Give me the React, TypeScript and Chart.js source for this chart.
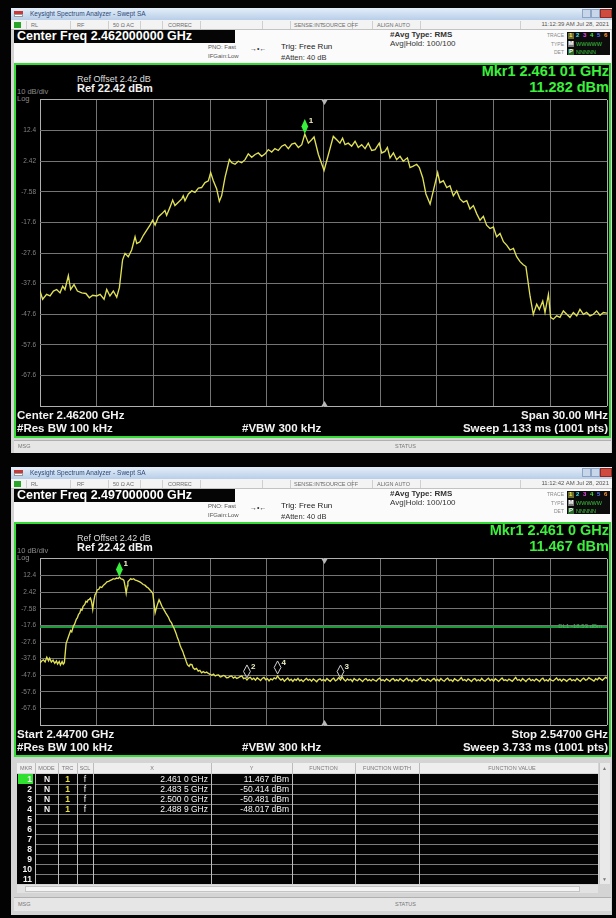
import React, { useEffect, useRef } from "react";
import { Chart, registerables } from "chart.js";

Chart.register(...registerables);

const FONT = "'Liberation Sans', Arial, Helvetica, sans-serif";

// Display scale shared by both sweeps
const refLevelDbm = 22.42;
const dbPerDiv = 10;
const yTickLabels = ["12.4", "2.42", "-7.58", "-17.6", "-27.6", "-37.6", "-47.6", "-57.6", "-67.6"];

// Sweep 1: centre 2.462 GHz, span 30 MHz (frequency in MHz, level in dBm)
const upperSpanMHz: [number, number] = [2447, 2477];
const upperTrace: [number, number][] = [
  [2447.0, -40.0], [2447.14, -42.7], [2447.35, -41.1], [2447.53, -41.6], [2447.71, -40.0], [2447.88, -39.5],
  [2448.06, -40.6], [2448.2, -38.4], [2448.32, -39.5], [2448.5, -35.0], [2448.62, -39.5], [2448.8, -37.9],
  [2448.98, -40.0], [2449.21, -40.6], [2449.43, -40.8], [2449.61, -42.2], [2449.79, -41.4], [2450.0, -41.6],
  [2450.18, -41.1], [2450.39, -42.7], [2450.53, -39.5], [2450.7, -41.6], [2450.88, -40.0], [2451.06, -42.0],
  [2451.2, -38.9], [2451.37, -29.8], [2451.5, -27.7], [2451.67, -28.8], [2451.85, -26.6], [2452.03, -22.3],
  [2452.12, -24.5], [2452.29, -23.9], [2452.47, -21.8], [2452.64, -20.2], [2452.82, -18.5], [2452.96, -16.9],
  [2453.09, -18.5], [2453.26, -15.8], [2453.44, -14.8], [2453.61, -13.7], [2453.7, -15.3], [2453.88, -12.6],
  [2454.02, -10.3], [2454.14, -12.1], [2454.32, -11.0], [2454.5, -9.9], [2454.58, -8.9], [2454.67, -10.5],
  [2454.85, -8.3], [2455.03, -7.3], [2455.2, -7.8], [2455.38, -6.4], [2455.55, -6.2], [2455.73, -4.6],
  [2455.91, -4.0], [2456.03, -1.3], [2456.17, -4.0], [2456.35, -6.7], [2456.49, -10.7], [2456.61, -8.9],
  [2456.79, -2.9], [2457.02, 2.9], [2457.14, 1.9], [2457.32, 1.4], [2457.49, 2.4], [2457.67, 1.9],
  [2457.85, 2.9], [2458.02, 4.8], [2458.2, 3.7], [2458.38, 4.6], [2458.55, 5.1], [2458.73, 4.0],
  [2458.91, 4.8], [2459.08, 6.2], [2459.26, 5.4], [2459.43, 6.5], [2459.61, 5.9], [2459.79, 7.3],
  [2459.96, 7.8], [2460.14, 6.5], [2460.32, 8.0], [2460.49, 8.3], [2460.67, 6.9], [2460.85, 7.8],
  [2461.01, 11.282], [2461.2, 8.3], [2461.37, 9.4], [2461.5, 10.3], [2461.73, 4.6], [2462.03, -0.6],
  [2462.26, 4.6], [2462.52, 10.5], [2462.7, 9.4], [2462.87, 8.3], [2463.01, 9.9], [2463.14, 7.8],
  [2463.31, 8.3], [2463.49, 7.3], [2463.67, 8.9], [2463.84, 6.9], [2464.02, 7.8], [2464.2, 6.5],
  [2464.37, 8.3], [2464.55, 5.9], [2464.73, 6.2], [2464.95, 8.3], [2465.08, 5.1], [2465.25, 5.6],
  [2465.38, 6.9], [2465.52, 3.5], [2465.7, 5.1], [2465.87, 2.9], [2466.05, 4.0], [2466.22, 2.4],
  [2466.44, 3.5], [2466.58, 0.3], [2466.75, 0.8], [2466.93, 1.4], [2467.07, 0.3], [2467.25, -3.0],
  [2467.42, -8.3], [2467.64, -11.6], [2467.81, -7.3], [2468.04, -1.3], [2468.16, -4.6], [2468.34, -4.0],
  [2468.52, -6.2], [2468.69, -5.6], [2468.87, -8.9], [2469.05, -7.3], [2469.22, -9.9], [2469.4, -11.0],
  [2469.58, -10.5], [2469.75, -13.2], [2469.93, -12.1], [2470.11, -14.8], [2470.28, -16.9], [2470.46, -15.6],
  [2470.63, -18.5], [2470.81, -19.6], [2470.99, -19.1], [2471.16, -22.3], [2471.34, -21.2], [2471.52, -23.9],
  [2471.69, -25.0], [2471.87, -26.6], [2472.05, -26.1], [2472.22, -28.8], [2472.4, -30.4], [2472.57, -31.4],
  [2472.71, -32.0], [2472.93, -41.7], [2473.1, -47.6], [2473.28, -44.3], [2473.42, -46.0], [2473.6, -43.3],
  [2473.72, -47.0], [2473.9, -41.1], [2474.02, -48.6], [2474.16, -49.2], [2474.34, -48.1], [2474.51, -48.6],
  [2474.69, -46.5], [2474.87, -47.6], [2475.04, -48.6], [2475.22, -47.0], [2475.4, -48.1], [2475.57, -46.0],
  [2475.75, -47.6], [2475.92, -47.0], [2476.1, -48.1], [2476.28, -47.6], [2476.45, -46.5], [2476.63, -47.9],
  [2476.81, -47.0], [2477.0, -47.2],
];
const upperMarkers: Marker[] = [{ id: 1, freqMHz: 2461.01, levelDbm: 11.282, active: true }];

// Sweep 2: 2.447 GHz to 2.547 GHz band-edge sweep
const lowerSpanMHz: [number, number] = [2447, 2547];
const lowerTrace: [number, number][] = [
  [2447.0, -40.2], [2447.3, -39.0], [2447.6, -38.3], [2447.9, -39.6], [2448.2, -36.8], [2448.5, -38.9],
  [2448.7, -37.3], [2449.0, -39.6], [2449.3, -38.5], [2449.6, -40.4], [2449.9, -39.0], [2450.1, -40.8],
  [2450.4, -39.3], [2450.6, -41.4], [2450.9, -39.4], [2451.1, -40.9], [2451.3, -40.0], [2451.6, -28.5],
  [2452.0, -24.6], [2452.4, -20.7], [2452.6, -21.5], [2452.9, -17.8], [2453.1, -16.9], [2453.4, -13.9],
  [2453.6, -13.0], [2453.8, -10.9], [2454.0, -10.2], [2454.2, -8.0], [2454.4, -8.4], [2454.6, -6.1],
  [2454.9, -5.0], [2455.1, -3.1], [2455.3, -3.6], [2455.5, -2.2], [2455.7, -1.9], [2455.9, -1.2],
  [2456.1, -3.5], [2456.3, -8.0], [2456.5, -2.8], [2456.7, 0.8], [2456.9, 1.9], [2457.1, 3.7],
  [2457.4, 4.3], [2457.6, 5.6], [2457.9, 5.2], [2458.2, 6.6], [2458.5, 7.4], [2458.8, 8.6],
  [2459.1, 8.9], [2459.4, 9.5], [2459.7, 9.9], [2459.9, 10.5], [2460.2, 10.3], [2460.5, 10.9],
  [2460.8, 10.6], [2461.0, 11.467], [2461.3, 10.4], [2461.6, 10.1], [2461.8, 9.5], [2462.0, 6.0],
  [2462.2, 1.7], [2462.4, 6.2], [2462.5, 8.6], [2462.8, 9.8], [2463.0, 10.5], [2463.2, 10.0],
  [2463.5, 10.5], [2463.8, 9.7], [2464.0, 9.5], [2464.3, 9.1], [2464.6, 8.6], [2464.9, 7.9],
  [2465.2, 7.0], [2465.5, 6.6], [2465.8, 5.6], [2466.1, 4.9], [2466.4, 3.7], [2466.6, 3.0],
  [2466.9, 1.7], [2467.1, -4.0], [2467.3, -10.0], [2467.5, -7.4], [2467.7, -5.1], [2468.0, -2.2],
  [2468.2, -3.6], [2468.5, -6.1], [2468.7, -7.2], [2469.0, -9.0], [2469.2, -10.2], [2469.5, -11.9],
  [2469.7, -13.0], [2469.9, -14.8], [2470.2, -16.1], [2470.4, -17.8], [2470.6, -19.0], [2470.8, -20.7],
  [2471.0, -22.4], [2471.2, -24.6], [2471.5, -27.2], [2471.7, -29.5], [2471.9, -31.2], [2472.2, -33.4],
  [2472.4, -35.6], [2472.6, -37.3], [2472.8, -39.4], [2473.0, -41.2], [2473.3, -42.2], [2473.5, -41.0],
  [2473.8, -41.2], [2474.0, -43.1], [2474.3, -44.1], [2474.6, -43.5], [2474.9, -45.1], [2475.2, -44.6],
  [2475.5, -46.1], [2475.8, -45.4], [2476.1, -46.1], [2476.4, -45.7], [2476.7, -46.5], [2477.0, -47.0],
  [2477.3, -47.6], [2477.6, -46.9], [2477.9, -48.0], [2478.2, -47.5], [2478.5, -47.4], [2478.8, -48.6],
  [2479.0, -48.4], [2479.3, -47.7], [2479.6, -48.0], [2479.9, -49.1], [2480.2, -49.0], [2480.5, -48.2],
  [2480.8, -48.0], [2481.1, -49.3], [2481.4, -48.6], [2481.7, -49.5], [2482.0, -49.0], [2482.3, -48.4],
  [2482.6, -48.0], [2482.9, -49.6], [2483.2, -49.2], [2483.5, -50.414], [2483.8, -49.3], [2484.1, -48.8],
  [2484.4, -50.2], [2484.7, -49.4], [2485.0, -50.6], [2485.3, -49.1], [2485.6, -49.9], [2485.9, -50.8],
  [2486.2, -49.5], [2486.5, -48.9], [2486.8, -50.3], [2487.1, -49.6], [2487.4, -51.0], [2487.7, -49.8],
  [2488.0, -50.4], [2488.3, -49.2], [2488.6, -49.7], [2488.9, -48.017], [2489.2, -49.6], [2489.5, -50.5],
  [2489.8, -49.7], [2490.1, -51.2], [2490.4, -50.1], [2490.7, -49.3], [2491.0, -50.8], [2491.3, -50.0],
  [2491.6, -51.3], [2491.9, -49.9], [2492.2, -50.6], [2492.5, -49.4], [2492.8, -50.9], [2493.1, -50.2],
  [2493.4, -51.4], [2493.7, -50.3], [2494.0, -49.5], [2494.3, -50.7], [2494.6, -50.0], [2494.9, -51.1],
  [2495.2, -49.8], [2495.5, -50.6], [2495.8, -51.5], [2496.1, -50.2], [2496.4, -49.7], [2496.7, -50.8],
  [2497.0, -50.1], [2497.3, -51.0], [2497.6, -49.6], [2497.9, -50.5], [2498.2, -51.2], [2498.5, -50.0],
  [2498.8, -49.4], [2499.1, -50.9], [2499.4, -50.3], [2499.7, -49.0], [2500.0, -50.481], [2500.3, -48.6],
  [2500.6, -50.2], [2500.9, -51.1], [2501.2, -49.8], [2501.5, -50.6], [2501.8, -50.0], [2502.1, -51.3],
  [2502.4, -49.5], [2502.7, -50.4], [2503.0, -50.9], [2503.3, -49.7], [2503.6, -50.5], [2503.9, -51.4],
  [2504.2, -50.1], [2504.5, -49.6], [2504.8, -50.8], [2505.1, -50.2], [2505.4, -51.0], [2505.7, -49.9],
  [2506.0, -50.6], [2506.3, -51.2], [2506.6, -50.0], [2506.9, -49.3], [2507.2, -50.7], [2507.5, -50.3],
  [2507.8, -51.1], [2508.1, -49.8], [2508.4, -50.5], [2508.7, -51.3], [2509.0, -50.0], [2509.3, -49.6],
  [2509.6, -50.9], [2509.9, -50.2], [2510.2, -51.0], [2510.5, -49.7], [2510.8, -50.4], [2511.1, -51.2],
  [2511.4, -50.1], [2511.7, -49.4], [2512.0, -50.8], [2512.3, -50.3], [2512.6, -51.4], [2512.9, -49.9],
  [2513.2, -50.6], [2513.5, -51.0], [2513.8, -50.0], [2514.1, -49.2], [2514.4, -50.7], [2514.7, -50.4],
  [2515.0, -51.1], [2515.3, -49.8], [2515.6, -50.5], [2515.9, -51.3], [2516.2, -50.2], [2516.5, -49.5],
  [2516.8, -50.9], [2517.1, -50.1], [2517.4, -51.0], [2517.7, -49.6], [2518.0, -50.6], [2518.3, -51.2],
  [2518.6, -50.0], [2518.9, -49.3], [2519.2, -50.8], [2519.5, -50.3], [2519.8, -51.3], [2520.1, -49.7],
  [2520.4, -50.4], [2520.7, -51.0], [2521.0, -50.1], [2521.3, -49.0], [2521.6, -50.7], [2521.9, -50.2],
  [2522.2, -51.1], [2522.5, -49.8], [2522.8, -50.5], [2523.1, -51.4], [2523.4, -50.0], [2523.7, -49.6],
  [2524.0, -50.9], [2524.3, -50.3], [2524.6, -51.0], [2524.9, -49.5], [2525.2, -50.6], [2525.5, -51.2],
  [2525.8, -50.1], [2526.1, -49.4], [2526.4, -50.8], [2526.7, -50.0], [2527.0, -51.1], [2527.3, -49.7],
  [2527.6, -50.4], [2527.9, -51.3], [2528.2, -50.2], [2528.5, -49.3], [2528.8, -50.7], [2529.1, -50.3],
  [2529.4, -51.0], [2529.7, -49.9], [2530.0, -50.5], [2530.3, -51.2], [2530.6, -50.0], [2530.9, -48.9],
  [2531.2, -50.6], [2531.5, -50.2], [2531.8, -51.1], [2532.1, -49.6], [2532.4, -50.4], [2532.7, -51.3],
  [2533.0, -50.1], [2533.3, -49.5], [2533.6, -50.8], [2533.9, -50.2], [2534.2, -51.0], [2534.5, -49.8],
  [2534.8, -50.5], [2535.1, -51.4], [2535.4, -50.0], [2535.7, -49.4], [2536.0, -50.9], [2536.3, -50.3],
  [2536.6, -51.1], [2536.9, -49.7], [2537.2, -50.6], [2537.5, -51.0], [2537.8, -50.1], [2538.1, -49.2],
  [2538.4, -50.7], [2538.7, -50.0], [2539.0, -51.2], [2539.3, -49.9], [2539.6, -50.4], [2539.9, -51.3],
  [2540.2, -50.2], [2540.5, -49.6], [2540.8, -50.8], [2541.1, -50.3], [2541.4, -51.0], [2541.7, -49.5],
  [2542.0, -50.5], [2542.3, -51.2], [2542.6, -50.0], [2542.9, -49.3], [2543.2, -50.6], [2543.5, -50.2],
  [2543.8, -49.0], [2544.1, -49.8], [2544.4, -50.4], [2544.7, -51.1], [2545.0, -49.7], [2545.3, -50.3],
  [2545.6, -49.1], [2545.9, -49.9], [2546.2, -50.6], [2546.5, -49.5], [2546.8, -48.8], [2547.0, -49.6],
];
const lowerMarkers: Marker[] = [
  { id: 1, freqMHz: 2461.0, levelDbm: 11.467, active: true },
  { id: 2, freqMHz: 2483.5, levelDbm: -50.414 },
  { id: 3, freqMHz: 2500.0, levelDbm: -50.481 },
  { id: 4, freqMHz: 2488.9, levelDbm: -48.017 },
];
const displayLineDbm = -18.53;

type Marker = { id: number; freqMHz: number; levelDbm: number; active?: boolean };

const PLOT_LEFT = 40;
const PLOT_RIGHT = 607;
const CANVAS_LEFT = 14;
const CANVAS_W = 597;
const PAD = 6;

type PlotProps = {
  top: number;
  height: number;
  span: [number, number];
  trace: [number, number][];
  markers: Marker[];
  displayLine?: number;
};

function SpectrumPlot({ top, height, span, trace, markers, displayLine }: PlotProps) {
  const ref = useRef<HTMLCanvasElement>(null);

  useEffect(() => {
    const canvas = ref.current;
    if (!canvas) return;
    const [fMin, fMax] = span;
    const yMax = refLevelDbm;
    const yMin = refLevelDbm - 10 * dbPerDiv;
    const yTicks = Array.from({ length: 11 }, (_, i) => yMin + i * dbPerDiv);
    const xTicks = Array.from({ length: 11 }, (_, i) => fMin + ((fMax - fMin) * i) / 10);
    const gridColor = (c: any) => (c.index === 0 || c.index === 10 ? "#b0b0b0" : "#747474");

    const datasets: any[] = [
      {
        label: "Trace 1",
        data: trace.map(([x, y]) => ({ x, y })),
        borderColor: "#e0e056",
        borderWidth: 1.35,
        pointRadius: 0,
        tension: 0,
      },
    ];
    if (displayLine !== undefined) {
      datasets.push({
        label: "DL1",
        data: [
          { x: fMin, y: displayLine },
          { x: fMax, y: displayLine },
        ],
        borderColor: "#1c9a3a",
        borderWidth: 2,
        pointRadius: 0,
      });
    }

    const overlay = {
      id: "analyzerOverlay",
      afterDatasetsDraw(chart: any) {
        const { ctx, chartArea: a, scales } = chart;
        const xs = scales.x;
        const ys = scales.y;
        ctx.save();
        // centre-frequency ticks on the top and bottom graticule edges
        const cx = Math.round(xs.getPixelForValue((fMin + fMax) / 2)) + 0.5;
        ctx.fillStyle = "#b8b8b8";
        ctx.beginPath();
        ctx.moveTo(cx - 3, a.top);
        ctx.lineTo(cx + 3, a.top);
        ctx.lineTo(cx, a.top + 5);
        ctx.closePath();
        ctx.fill();
        ctx.beginPath();
        ctx.moveTo(cx - 3, a.bottom);
        ctx.lineTo(cx + 3, a.bottom);
        ctx.lineTo(cx, a.bottom - 5);
        ctx.closePath();
        ctx.fill();

        if (displayLine !== undefined) {
          ctx.font = `6px ${FONT}`;
          ctx.fillStyle = "#4cba62";
          ctx.textAlign = "right";
          ctx.textBaseline = "middle";
          ctx.fillText(`DL1 ${displayLine.toFixed(2)} dBm`, a.right - 5, ys.getPixelForValue(displayLine) - 1);
        }

        for (const m of markers) {
          const px = xs.getPixelForValue(m.freqMHz);
          const py = ys.getPixelForValue(m.levelDbm) - (m.active ? 0 : 2);
          const h = m.active ? 15 : 13;
          const w = 3.4;
          ctx.beginPath();
          ctx.moveTo(px, py);
          ctx.lineTo(px - w, py - h / 2);
          ctx.lineTo(px, py - h);
          ctx.lineTo(px + w, py - h / 2);
          ctx.closePath();
          if (m.active) {
            ctx.fillStyle = "#38f03c";
            ctx.fill();
          } else {
            ctx.strokeStyle = "#d2d2d2";
            ctx.lineWidth = 1;
            ctx.stroke();
          }
          ctx.font = `bold 8px ${FONT}`;
          ctx.fillStyle = "#efefc4";
          ctx.textAlign = "left";
          ctx.textBaseline = "middle";
          ctx.fillText(String(m.id), px + 4, py - h + 2);
        }
        ctx.restore();
      },
    };

    const chart = new Chart(canvas, {
      type: "line",
      data: { datasets },
      options: {
        animation: false,
        responsive: false,
        maintainAspectRatio: false,
        devicePixelRatio: 1,
        layout: {
          padding: { top: PAD, bottom: PAD, left: 0, right: CANVAS_LEFT + CANVAS_W - PLOT_RIGHT },
        },
        plugins: { legend: { display: false }, tooltip: { enabled: false } },
        scales: {
          x: {
            type: "linear",
            min: fMin,
            max: fMax,
            afterBuildTicks: (s: any) => {
              s.ticks = xTicks.map((v) => ({ value: v }));
            },
            afterFit: (s: any) => {
              s.height = 0;
            },
            ticks: { display: false },
            grid: { color: gridColor, drawTicks: false, lineWidth: 1 },
            border: { display: false },
          },
          y: {
            type: "linear",
            min: yMin,
            max: yMax,
            afterBuildTicks: (s: any) => {
              s.ticks = yTicks.map((v) => ({ value: v }));
            },
            afterFit: (s: any) => {
              s.width = PLOT_LEFT - CANVAS_LEFT;
            },
            ticks: {
              color: "#828282",
              font: { size: 6.5, family: FONT },
              padding: 4,
              autoSkip: false,
              callback: (_v: any, i: number) => (i >= 1 && i <= 9 ? yTickLabels[9 - i] : ""),
            },
            grid: { color: gridColor, drawTicks: false, lineWidth: 1 },
            border: { display: false },
          },
        },
      } as any,
      plugins: [overlay],
    });
    return () => chart.destroy();
  }, []);

  return (
    <canvas
      ref={ref}
      width={CANVAS_W}
      height={height + 2 * PAD}
      style={{ position: "absolute", left: CANVAS_LEFT, top: top - PAD, width: CANVAS_W, height: height + 2 * PAD }}
    />
  );
}

type TProps = {
  x: number;
  y: number;
  size: number;
  color?: string;
  bold?: boolean;
  align?: "left" | "right" | "center";
  children: React.ReactNode;
};

function T({ x, y, size, color = "#222", bold = false, align = "left", children }: TProps) {
  const style: React.CSSProperties = {
    position: "absolute",
    top: y - size * 0.6,
    height: size * 1.2,
    fontSize: size,
    lineHeight: `${size * 1.2}px`,
    fontFamily: FONT,
    fontWeight: bold ? 700 : 400,
    color,
    whiteSpace: "nowrap",
  };
  if (align === "left") style.left = x;
  else if (align === "right") style.right = 616 - x;
  else {
    style.left = x;
    style.transform = "translateX(-50%)";
  }
  return <div style={style}>{children}</div>;
}

function Box({ x, y, w, h, bg, style }: { x: number; y: number; w: number; h: number; bg: string; style?: React.CSSProperties }) {
  return <div style={{ position: "absolute", left: x, top: y, width: w, height: h, background: bg, boxSizing: "border-box", ...style }} />;
}

const traceDigitColors = ["#f0e848", "#48e0e8", "#e850e8", "#48e848", "#5a78ff", "#ff9a38"];
const toolbarSeparators = [26, 70, 108, 140, 162, 200, 262, 290, 352, 372, 420, 520];

type WindowProps = {
  top: number;
  height: number;
  plotHeight: number;
  centerFreq: string;
  time: string;
  mkrFreq: string;
  mkrLevel: string;
  footLeft: string;
  footRight: string;
  sweep: string;
  span: [number, number];
  trace: [number, number][];
  markers: Marker[];
  displayLine?: number;
  statusBar: boolean;
};

function AnalyzerWindow(p: WindowProps) {
  const W = p.top;
  const plotTop = W + 90;
  const plotBottom = plotTop + p.plotHeight;
  const panelTop = W + 55;
  const panelBottom = plotBottom + 30;
  return (
    <>
      <Box x={11} y={W} w={601} h={p.height} bg="#d4d4d4" />
      {/* title bar */}
      <Box x={11} y={W} w={601} h={12} bg="linear-gradient(#e4eef9, #b8cee8)" />
      <Box x={14} y={W + 3} w={9} h={3} bg="#c83a3a" />
      <Box x={14} y={W + 6} w={9} h={3} bg="#ffffff" style={{ border: "1px solid #999" }} />
      <T x={30} y={W + 6} size={6.5} color="#2e4a78">
        Keysight Spectrum Analyzer - Swept SA
      </T>
      <Box x={582} y={W + 1} w={9} h={9} bg="#c8d6ea" style={{ border: "1px solid #8ea4c4" }} />
      <Box x={591} y={W + 1} w={9} h={9} bg="#c8d6ea" style={{ border: "1px solid #8ea4c4" }} />
      <Box x={600} y={W + 1} w={12} h={9} bg="#cf4b40" style={{ border: "1px solid #8a2a22" }} />

      {/* instrument status row */}
      <Box x={11} y={W + 12} w={601} h={10} bg="#f3f3f3" style={{ borderBottom: "1px solid #c2c2c2" }} />
      <Box x={14} y={W + 14} w={7} h={6} bg="#2aa52a" />
      {toolbarSeparators.map((sx) => (
        <Box key={sx} x={sx} y={W + 13} w={1} h={8} bg="#cfcfcf" />
      ))}
      <T x={31} y={W + 17} size={5.5} color="#6c6c6c">RL</T>
      <T x={77} y={W + 17} size={5.5} color="#6c6c6c">RF</T>
      <T x={113} y={W + 17} size={5.5} color="#6c6c6c">50 Ω  AC</T>
      <T x={168} y={W + 17} size={5.5} color="#6c6c6c">CORREC</T>
      <T x={294} y={W + 17} size={5.5} color="#6c6c6c">SENSE:INT</T>
      <T x={322} y={W + 17} size={5.5} color="#6c6c6c">SOURCE OFF</T>
      <T x={377} y={W + 17} size={5.5} color="#6c6c6c">ALIGN AUTO</T>
      <T x={609} y={W + 17} size={6} color="#555" align="right">{p.time}</T>

      {/* setup area */}
      <Box x={14} y={W + 22} w={597} h={33} bg="#fbfbfb" />
      <Box x={14} y={W + 22} w={221} h={13} bg="#050505" />
      <T x={17} y={W + 28.5} size={12.5} bold color="#ffffff">{p.centerFreq}</T>
      <T x={208} y={W + 40} size={6} color="#555">PNO: Fast</T>
      <T x={208} y={W + 49} size={6} color="#555">IFGain:Low</T>
      <T x={250} y={W + 41} size={7} color="#333">→•←</T>
      <T x={281} y={W + 39} size={8} color="#222">Trig: Free Run</T>
      <T x={281} y={W + 49} size={7.5} color="#333">#Atten: 40 dB</T>
      <T x={390} y={W + 27} size={8} bold color="#333">#Avg Type: RMS</T>
      <T x={390} y={W + 35.5} size={8} color="#333">Avg|Hold: 100/100</T>
      <T x={564} y={W + 27} size={5} color="#888" align="right">TRACE</T>
      <T x={564} y={W + 36} size={5} color="#888" align="right">TYPE</T>
      <T x={564} y={W + 44} size={5} color="#888" align="right">DET</T>
      <Box x={567} y={W + 24} w={43} h={23} bg="#0c0c0c" />
      <Box x={568} y={W + 25} w={6} h={6} bg="#6b6b30" />
      {traceDigitColors.map((c, i) => (
        <T key={c} x={569 + i * 7} y={W + 28} size={6} bold color={c}>{String(i + 1)}</T>
      ))}
      <Box x={568} y={W + 33} w={6} h={6} bg="#7a7a7a" />
      <T x={568.5} y={W + 36} size={6} bold color="#ffffff">M</T>
      <T x={576} y={W + 36} size={5.5} color="#3fc43f">WWWWW</T>
      <Box x={568} y={W + 41} w={6} h={6} bg="#2a6a2a" />
      <T x={569} y={W + 44} size={6} bold color="#ffffff">P</T>
      <T x={576} y={W + 44} size={5.5} color="#3fc43f">NNNNN</T>

      {/* measurement display */}
      <Box
        x={14}
        y={panelTop}
        w={597}
        h={panelBottom - panelTop}
        bg="#000"
        style={{ border: "2px solid #35db35" }}
      />
      <T x={609} y={W + 64} size={14.5} bold color="#3cf03c" align="right">{p.mkrFreq}</T>
      <T x={609} y={W + 80} size={14.5} bold color="#3cf03c" align="right">{p.mkrLevel}</T>
      <T x={77} y={W + 71} size={9} color="#dcdcdc">Ref Offset 2.42 dB</T>
      <T x={77} y={W + 81} size={11} bold color="#f2f2f2">Ref 22.42 dBm</T>
      <T x={17} y={W + 83} size={7.5} color="#8a8a8a">10 dB/div</T>
      <T x={17} y={W + 90} size={7.5} color="#8a8a8a">Log</T>

      <SpectrumPlot
        top={plotTop}
        height={p.plotHeight}
        span={p.span}
        trace={p.trace}
        markers={p.markers}
        displayLine={p.displayLine}
      />

      <T x={17} y={plotBottom + 7.5} size={11.5} bold color="#f2f2f2">{p.footLeft}</T>
      <T x={17} y={plotBottom + 20.5} size={11.5} bold color="#f2f2f2">#Res BW 100 kHz</T>
      <T x={242} y={plotBottom + 20.5} size={11.5} bold color="#f2f2f2">#VBW 300 kHz</T>
      <T x={608} y={plotBottom + 7.5} size={11.5} bold color="#f2f2f2" align="right">{p.footRight}</T>
      <T x={608} y={plotBottom + 20.5} size={11.5} bold color="#f2f2f2" align="right">{p.sweep}</T>

      {p.statusBar && (
        <>
          <Box x={14} y={panelBottom + 2} w={597} h={13} bg="#e6e6e6" style={{ borderTop: "1px solid #b0b0b0" }} />
          <T x={18} y={panelBottom + 8.5} size={5.5} color="#777">MSG</T>
          <T x={395} y={panelBottom + 8.5} size={5.5} color="#777">STATUS</T>
        </>
      )}
    </>
  );
}

// marker table layout
const tableColumns = [17, 35, 58, 77, 93, 211, 292, 355, 419, 598];
const tableHeaders: [string, number][] = [
  ["MKR", 26],
  ["MODE", 46.5],
  ["TRC", 67.5],
  ["SCL", 85],
  ["X", 152],
  ["Y", 251.5],
  ["FUNCTION", 323.5],
  ["FUNCTION WIDTH", 387],
  ["FUNCTION VALUE", 512],
];
const tableRowCount = 11;

function formatGHz(mhz: number) {
  const s = (mhz / 1000).toFixed(4);
  return `${s.slice(0, -1)} ${s.slice(-1)} GHz`;
}

function MarkerTable({ top, markers }: { top: number; markers: Marker[] }) {
  const headTop = top;
  const bodyTop = top + 11;
  const rowH = 10;
  const bodyH = rowH * tableRowCount;
  return (
    <>
      <Box x={17} y={headTop} w={581} h={10} bg="#eeeeee" />
      {tableHeaders.map(([label, cx]) => (
        <T key={label} x={cx} y={headTop + 5} size={5.5} color="#7a7a7a" align="center">{label}</T>
      ))}
      <Box x={17} y={bodyTop} w={581} h={bodyH} bg="#030303" />
      {Array.from({ length: tableRowCount - 1 }, (_, i) => (
        <Box key={`r${i}`} x={35} y={bodyTop + (i + 1) * rowH} w={563} h={1} bg="#7c7c7c" />
      ))}
      {tableColumns.slice(1, -1).map((cx) => (
        <Box key={`c${cx}`} x={cx} y={headTop} w={1} h={bodyH + 11} bg="#bcbcbc" />
      ))}
      <Box x={18} y={bodyTop} w={15} h={rowH} bg="#2fe02f" />
      {Array.from({ length: tableRowCount }, (_, i) => (
        <T key={`n${i}`} x={32} y={bodyTop + i * rowH + 5} size={8.5} bold color="#f4f4f4" align="right">
          {String(i + 1)}
        </T>
      ))}
      {markers.map((m, i) => {
        const cy = bodyTop + i * rowH + 5.5;
        return (
          <React.Fragment key={m.id}>
            <T x={47} y={cy} size={8.5} bold color="#f4f4f4" align="center">N</T>
            <T x={67.5} y={cy} size={8.5} bold color="#e8e040" align="center">1</T>
            <T x={85} y={cy} size={8.5} color="#f4f4f4" align="center">f</T>
            <T x={208} y={cy} size={8.5} color="#f4f4f4" align="right">{formatGHz(m.freqMHz)}</T>
            <T x={289} y={cy} size={8.5} color="#f4f4f4" align="right">{`${m.levelDbm.toFixed(3)} dBm`}</T>
          </React.Fragment>
        );
      })}
      {/* scroll bars */}
      <Box x={599} y={headTop} w={11} h={bodyH + 11} bg="#e9e9e9" style={{ borderLeft: "1px solid #c8c8c8" }} />
      <T x={604.5} y={headTop + 5} size={5} color="#777" align="center">▲</T>
      <T x={604.5} y={bodyTop + bodyH - 5} size={5} color="#777" align="center">▼</T>
      <Box x={17} y={bodyTop + bodyH + 1} w={581} h={8} bg="#e2e2e2" />
      <Box x={25} y={bodyTop + bodyH + 2} w={555} h={6} bg="#f4f4f4" style={{ border: "1px solid #c4c4c4" }} />
      <Box x={14} y={bodyTop + bodyH + 13} w={597} h={14} bg="#e6e6e6" style={{ borderTop: "1px solid #b0b0b0" }} />
      <T x={18} y={bodyTop + bodyH + 20} size={5.5} color="#777">MSG</T>
      <T x={395} y={bodyTop + bodyH + 20} size={5.5} color="#777">STATUS</T>
    </>
  );
}

export default function App() {
  return (
    <div
      style={{
        position: "absolute",
        left: 0,
        top: 0,
        width: 616,
        height: 918,
        background: "#030303",
        overflow: "hidden",
        fontFamily: FONT,
      }}
    >
      <AnalyzerWindow
        top={8}
        height={445}
        plotHeight={310}
        centerFreq="Center Freq 2.462000000 GHz"
        time="11:12:39 AM Jul 28, 2021"
        mkrFreq="Mkr1 2.461 01 GHz"
        mkrLevel="11.282 dBm"
        footLeft="Center 2.46200 GHz"
        footRight="Span 30.00 MHz"
        sweep="Sweep  1.133 ms (1001 pts)"
        span={upperSpanMHz}
        trace={upperTrace}
        markers={upperMarkers}
        statusBar
      />
      <AnalyzerWindow
        top={467}
        height={448}
        plotHeight={170}
        centerFreq="Center Freq 2.497000000 GHz"
        time="11:12:42 AM Jul 28, 2021"
        mkrFreq="Mkr1 2.461 0 GHz"
        mkrLevel="11.467 dBm"
        footLeft="Start 2.44700 GHz"
        footRight="Stop 2.54700 GHz"
        sweep="Sweep  3.733 ms (1001 pts)"
        span={lowerSpanMHz}
        trace={lowerTrace}
        markers={lowerMarkers}
        displayLine={displayLineDbm}
        statusBar={false}
      />
      <MarkerTable top={763} markers={lowerMarkers} />
    </div>
  );
}
